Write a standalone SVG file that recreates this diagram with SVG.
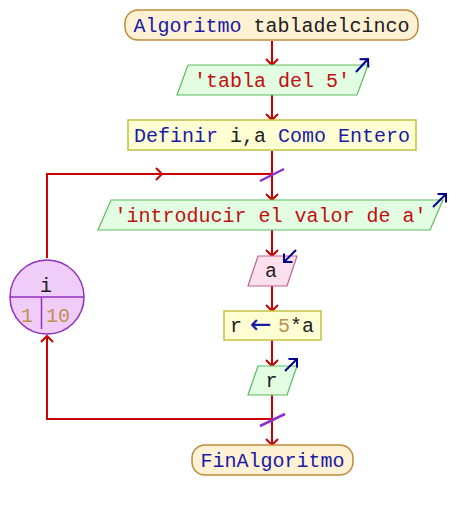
<svg xmlns="http://www.w3.org/2000/svg" width="450" height="510" viewBox="0 0 450 510">
<style>
text{font-family:"Liberation Mono","DejaVu Sans Mono",monospace;font-size:20px;text-anchor:middle}
.term{fill:#fff1d4;stroke:#c08a3a;stroke-width:1.5}
.proc{fill:#ffffd4;stroke:#c4c040;stroke-width:1.5}
.out{fill:#e2fde2;stroke:#5cbc5c;stroke-width:1.2}
.inp{fill:#fde0ee;stroke:#c2608e;stroke-width:1.2}
.kw{fill:#1a1aa8}
.str{fill:#c01010}
.id{fill:#202020}
.num{fill:#c09050}
.con{fill:none;stroke:#cc0000;stroke-width:2}
.io{fill:none;stroke:#000090;stroke-width:2}
.cut{stroke:#8a30d0;stroke-width:2.5}
</style>
<defs>
<marker id="ah" markerUnits="userSpaceOnUse" markerWidth="14" markerHeight="14" refX="7" refY="7" orient="auto" viewBox="0 0 14 14">
<path d="M1,1 L7,7 L1,13" fill="none" stroke="#cc0000" stroke-width="2"/>
</marker>
<marker id="ioh" markerUnits="userSpaceOnUse" markerWidth="14" markerHeight="14" refX="7" refY="7" orient="auto" viewBox="0 0 14 14">
<path d="M1,1 L7,7 L1,13" fill="none" stroke="#000090" stroke-width="2"/>
</marker>
</defs>
<g id="connectors">
<path class="con" d="M272,41 V65" marker-end="url(#ah)"/>
<path class="con" d="M272,95 V120" marker-end="url(#ah)"/>
<path class="con" d="M272,151 V200" marker-end="url(#ah)"/>
<path class="con" d="M47,258 V174 H162" marker-end="url(#ah)"/>
<path class="con" d="M160,174 H272"/>
<path class="con" d="M272,230 V256" marker-end="url(#ah)"/>
<path class="con" d="M272,286 V311" marker-end="url(#ah)"/>
<path class="con" d="M272,340 V366" marker-end="url(#ah)"/>
<path class="con" d="M272,395 V445" marker-end="url(#ah)"/>
<path class="con" d="M272,419 H47 V336" marker-end="url(#ah)"/>
<line class="cut" x1="260" y1="181" x2="284" y2="169"/>
<line class="cut" x1="260" y1="426" x2="285" y2="414"/>
</g>
<g id="start">
<rect class="term" x="125" y="10" width="293" height="30" rx="13"/>
<text x="271.5" y="32" class="kw">Algoritmo <tspan class="id">tabladelcinco</tspan></text>
</g>
<g id="out1">
<polygon class="out" points="188,65 368,65 357,95 177,95"/>
<text x="272" y="87" class="str">'tabla del 5'</text>
<path class="io" d="M356,72 L368,59" marker-end="url(#ioh)"/>
</g>
<g id="define">
<rect class="proc" x="128" y="120" width="288" height="30"/>
<text x="272" y="142" class="kw">Definir<tspan class="id"> i,a </tspan>Como Entero</text>
</g>
<g id="out2">
<polygon class="out" points="111,200 443,200 430,230 98,230"/>
<text x="270.5" y="222" class="str">'introducir el valor de a'</text>
<path class="io" d="M433,207 L446,194" marker-end="url(#ioh)"/>
</g>
<g id="in1">
<polygon class="inp" points="258,256 297,256 287,286 248,286"/>
<text x="271" y="277" class="id">a</text>
<path class="io" d="M296,250 L284,262" marker-end="url(#ioh)"/>
</g>
<g id="assign">
<rect class="proc" x="224" y="311" width="97" height="29"/>
<text x="236" y="332" class="id">r</text>
<text x="261" y="333" class="kw" style="font-family:'DejaVu Sans',sans-serif;font-size:26px;font-weight:normal">←</text>
<text x="296" y="332" class="id"><tspan class="num">5</tspan>*a</text>
</g>
<g id="out3">
<polygon class="out" points="258,366 297,366 287,395 248,395"/>
<text x="271.5" y="387" class="id">r</text>
<path class="io" d="M285,371 L297,359" marker-end="url(#ioh)"/>
</g>
<g id="loop">
<circle cx="47" cy="297" r="37" fill="#f0ccf8" stroke="#9030c0" stroke-width="1.5"/>
<line x1="10" y1="297" x2="84" y2="297" stroke="#9030c0" stroke-width="1.5"/>
<line x1="41.5" y1="297" x2="41.5" y2="329" stroke="#9030c0" stroke-width="1.5"/>
<text x="46" y="292" class="id">i</text>
<text x="27" y="322" class="num">1</text>
<text x="58" y="322" class="num">10</text>
</g>
<g id="end">
<rect class="term" x="192" y="445" width="161" height="30" rx="13"/>
<text x="272.5" y="467" class="kw">FinAlgoritmo</text>
</g>
</svg>
